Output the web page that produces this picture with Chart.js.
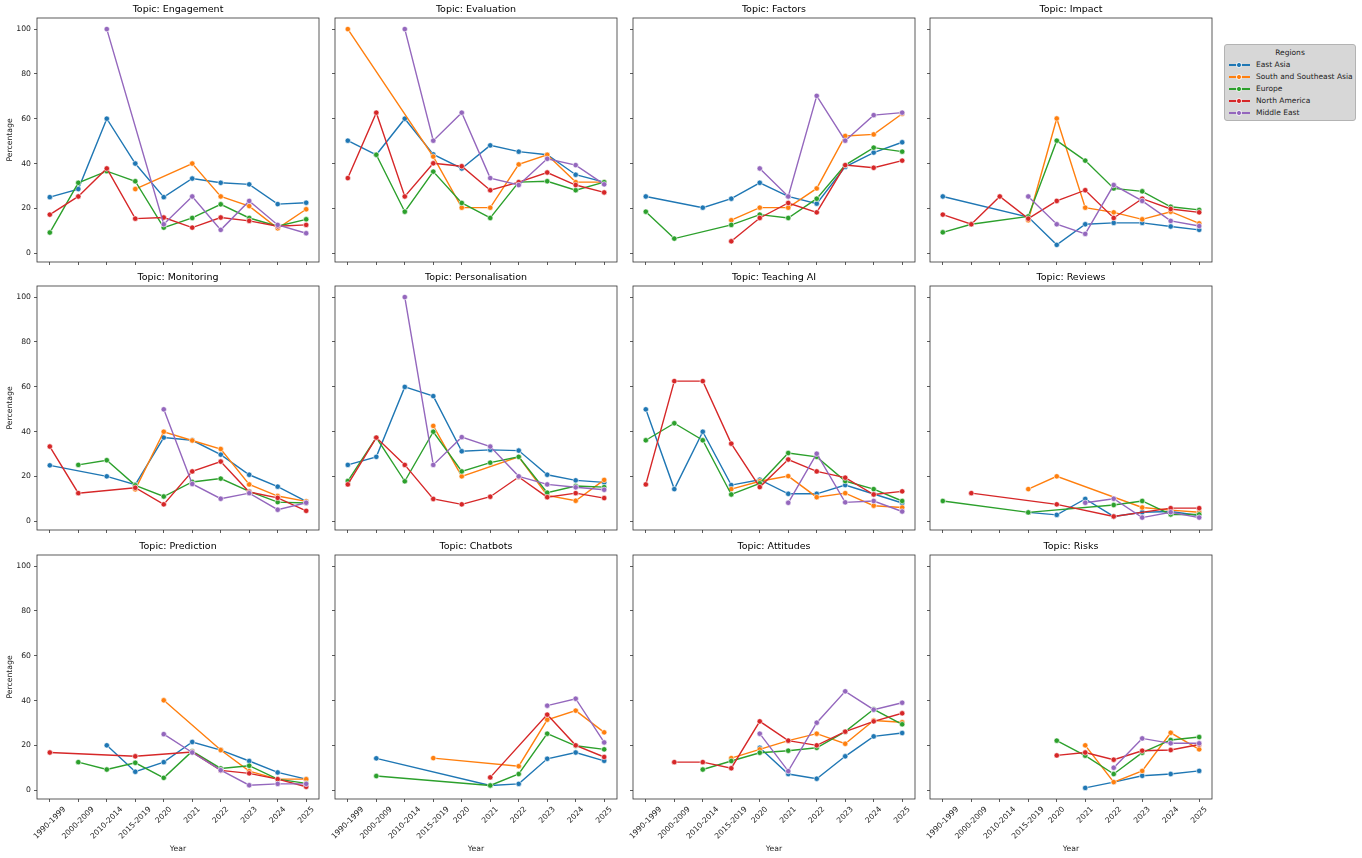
<!DOCTYPE html>
<html>
<head>
<meta charset="utf-8">
<script src="https://cdn.jsdelivr.net/npm/chart.js@4.4.1/dist/chart.umd.min.js"></script>
<style>
html,body{margin:0;padding:0;background:#fff;}
body{width:1362px;height:858px;overflow:hidden;position:relative;font-family:'DejaVu Sans',sans-serif;}
.cell{position:absolute;}
.cell canvas{display:block;}
#legend{position:absolute;left:1224px;top:44px;width:132px;height:77px;background:#d7d7d7;border:1px solid #b3b3b3;border-radius:3px;box-sizing:border-box;font-size:7.5px;color:#222;}
#legend .lt{position:absolute;left:0;width:100%;text-align:center;top:3px;height:10px;line-height:10px;}
#legend .le{position:absolute;left:0;width:100%;height:10px;}
#legend .ln{position:absolute;left:4px;top:4.3px;width:21px;height:1.4px;}
#legend .mk{position:absolute;left:11.2px;top:2.2px;width:5.6px;height:5.6px;border-radius:50%;box-sizing:border-box;border:0.6px solid #fff;}
#legend .tx{position:absolute;left:31px;top:0;height:10px;line-height:10px;white-space:nowrap;}
</style>
</head>
<body>
<div id="legend"></div>
<script>
// ---- categories / labels ----
const years = ['1990-1999','2000-2009','2010-2014','2015-2019','2020','2021','2022','2023','2024','2025'];
const regions = ['East Asia','South and Southeast Asia','Europe','North America','Middle East'];
const regionColors = ['#1f77b4','#ff7f0e','#2ca02c','#d62728','#9467bd'];
const yTickValues = [0, 20, 40, 60, 80, 100];
const topicNames = ['Engagement','Evaluation','Factors','Impact','Monitoring','Personalisation','Teaching AI','Reviews','Prediction','Chatbots','Attitudes','Risks'];

// ---- series values (order of rows = regions) ----
const engagement = [
  [25, 28.6, 60, 40, 25, 33.3, 31.4, 30.7, 21.9, 22.5],
  [null, null, null, 28.6, null, 40, 25.3, 21, 11.1, 19.6],
  [9.2, 31.4, 36.6, 32.1, 11.4, 15.7, 21.8, 15.7, 12, 15.1],
  [17.2, 25.3, 37.8, 15.4, 15.9, 11.4, 15.9, 14.4, 12, 12.6],
  [null, null, 100, null, 12.9, 25.3, 10.4, 23.3, 12.6, 8.9]
];
const evaluation = [
  [50.2, 43.9, 60, 44.1, 37.8, 48.1, 45.3, 43.9, 35, 31.7],
  [100, null, null, 43.1, 20.3, 20.3, 39.6, 43.9, 31.7, 31.7],
  [null, 43.9, 18.5, 36.4, 22.4, 15.7, 31.7, 32.1, 28.1, 31.7],
  [33.5, 62.7, 25.3, 40.1, 38.8, 28.1, 31.7, 36, 30.4, 27.1],
  [null, null, 100, 50.2, 62.7, 33.5, 30.4, 42.1, 39.3, 30.7]
];
const factors = [
  [25.3, null, 20.3, 24.3, 31.4, 25.3, 22.1, 38.5, 44.9, 49.5],
  [null, null, null, 14.7, 20.3, 20.3, 28.9, 52.3, 53, 62.2],
  [18.5, 6.5, null, 12.6, 17.2, 15.7, 24.3, 39.3, 47.1, 45.3],
  [null, null, null, 5.3, 15.7, 22.4, 18.2, 39.3, 38.1, 41.3],
  [null, null, null, null, 37.8, 25.3, 70.2, 50.2, 61.6, 62.7]
];
const impact = [
  [25.3, null, null, 16.1, 3.7, 12.9, 13.5, 13.5, 11.9, 10.4],
  [null, null, null, 14.7, 60.1, 20.3, 18.2, 15.1, 18.5, 13.3],
  [9.3, 12.9, null, 16.4, 50.2, 41.3, 28.9, 27.6, 20.7, 19.3],
  [17.2, 12.9, 25.3, 15.4, 23.3, 28.1, 15.7, 24.3, 19.7, 18.2],
  [null, null, null, 25.3, 12.9, 8.6, 30.4, 23.3, 14.4, 12.1]
];
const monitoring = [
  [24.9, null, 20, 16.3, 37.3, 36.1, 29.7, 20.7, 15.4, 8.8],
  [null, null, null, 14.2, 39.9, 36, 32.2, 16.4, 11.2, 8.8],
  [null, 25.1, 27.2, 16, 11, 17.5, 19, 13.3, 8.5, 8.1],
  [33.3, 12.5, null, 14.9, 7.5, 22.2, 26.6, 13, 10.4, 4.6],
  [null, null, null, null, 49.9, 16.6, 10, 12.5, 5.1, 8.2]
];
const personalisation = [
  [25.1, 28.7, 59.9, 55.8, 31.2, 31.8, 31.5, 20.7, 18.2, 17.3],
  [null, null, null, 42.5, 20, null, 28.7, 11.5, 9.1, 18.4],
  [17.9, 37.3, 17.8, 39.9, 22.2, 26.1, 28.7, 12.7, 15.7, 15.2],
  [16.4, 37.3, 25.1, 9.9, 7.5, 10.9, 19.7, 10.7, 12.5, 10.3],
  [null, null, 100, 25.1, 37.5, 33.3, 20, 16.4, 15.1, 14]
];
const teachingAI = [
  [49.9, 14.3, 39.9, 16.1, 18.5, 12.2, 12.2, 16.1, 12.1, 8.1],
  [null, null, null, 14.3, 17.8, 20.1, 10.7, 12.5, 6.9, 6.1],
  [36.1, 43.7, 36.1, 11.9, 16.9, 30.4, 28.7, 17.9, 14.3, 9],
  [16.4, 62.5, 62.5, 34.6, 15.2, 27.5, 22.2, 19.4, 11.9, 13.3],
  [null, null, null, null, null, 8.2, 30.1, 8.4, 9, 4.3]
];
const reviews = [
  [null, null, null, 3.9, 2.8, 9.9, 2.1, 4, 4.3, 2.5],
  [null, null, null, 14.3, 20, null, null, 6.1, 4.9, 4],
  [9, null, null, 3.9, null, null, 7.2, 9, 3, 3],
  [null, 12.5, null, null, 7.5, null, 2.1, null, 5.8, 5.8],
  [null, null, null, null, null, 8.2, 10, 1.6, 4, 1.6]
];
const prediction = [
  [null, null, 20, 8.2, 12.5, 21.5, 17.9, 13, 7.9, 4.9],
  [null, null, null, null, 40.1, null, 17.9, 8.5, 4.9, 4.9],
  [null, 12.5, 9.2, 12.2, 5.5, 17.4, 9.7, 10.9, 4.9, 3],
  [16.8, null, null, 15.1, null, 17, 8.8, 7.5, 4.9, 1.5],
  [null, null, null, null, 25, 16.8, 8.9, 2.2, 2.8, 2.8]
];
const chatbots = [
  [null, 14.2, null, null, null, 2.1, 2.8, 14, 16.8, 13.1],
  [null, null, null, 14.3, null, null, 10.7, 31.4, 35.5, 25.8],
  [null, 6.3, null, null, null, 2.1, 7.2, 25.2, 19.8, 18.2],
  [null, null, null, null, null, 5.7, null, 33.7, 20, 14.8],
  [null, null, null, null, null, null, null, 37.7, 40.8, 21.3]
];
const attitudes = [
  [null, null, null, null, 18.9, 7.2, 5.1, 15.1, 24, 25.5],
  [null, null, null, 14.3, 18.2, 22.1, 25.2, 20.7, 31.1, 30.3],
  [null, null, 9.2, 13, 16.7, 17.6, 18.9, 26.1, 36.1, 29.4],
  [null, 12.5, 12.5, 9.8, 30.7, 22.1, 20, 26.1, 30.7, 34.3],
  [null, null, null, null, 25.2, 8.5, 30.1, 44.1, 35.9, 39]
];
const risks = [
  [null, null, null, null, null, 1, 3.6, 6.4, 7.2, 8.6],
  [null, null, null, null, null, 20, 3.6, 8.6, 25.6, 18.2],
  [null, null, null, null, 22.1, 15.4, 7.2, 16.7, 22.4, 23.7],
  [null, null, null, null, 15.5, 16.8, 13.6, 17.6, 17.9, 20.4],
  [null, null, null, null, null, null, 10, 23.1, 20.9, 20.9]
];
const topicSeries = [engagement, evaluation, factors, impact, monitoring, personalisation, teachingAI, reviews, prediction, chatbots, attitudes, risks];

// ---- layout ----
const FONT = "'DejaVu Sans', sans-serif";
const SMALL = 7.7, TITLE_SIZE = 9.5;
const axLefts = [37, 335, 633, 930];
const axTops = [18, 286, 555];
const AXW = 282, AXH = 244, TITLE_H = 16;

const framePlugin = {
  id: 'frame',
  afterDatasetsDraw(chart) {
    const {ctx, chartArea: a} = chart;
    ctx.save();
    ctx.strokeStyle = '#333';
    ctx.lineWidth = 0.8;
    ctx.strokeRect(a.left, a.top, a.right - a.left, a.bottom - a.top);
    ctx.restore();
  }
};
const xLabelPlugin = {
  id: 'xlabels',
  afterDraw(chart) {
    const sc = chart.scales.x, ctx = chart.ctx, a = chart.chartArea;
    ctx.save();
    ctx.font = SMALL + "px 'DejaVu Sans'";
    ctx.fillStyle = '#222';
    ctx.textAlign = 'center';
    ctx.textBaseline = 'middle';
    years.forEach((lab, i) => {
      const px = sc.getPixelForValue(i);
      const w = ctx.measureText(lab).width;
      const d = (w + SMALL * 1.16) * Math.SQRT1_2 / 2;
      ctx.save();
      ctx.translate(px, a.bottom + 6 + d);
      ctx.rotate(-Math.PI / 4);
      ctx.fillText(lab, 0, 0);
      ctx.restore();
    });
    ctx.restore();
  }
};

topicNames.forEach((name, k) => {
  const row = Math.floor(k / 4), col = k % 4;
  const isLeft = col === 0, isBottom = row === 2;
  const LPAD = isLeft ? 37 : 12, RPAD = 4, BPAD = isBottom ? 57 : 10;
  const W = LPAD + AXW + RPAD, H = TITLE_H + AXH + BPAD;
  const div = document.createElement('div');
  div.className = 'cell';
  div.style.left = (axLefts[col] - LPAD) + 'px';
  div.style.top = (axTops[row] - TITLE_H) + 'px';
  div.style.width = W + 'px';
  div.style.height = H + 'px';
  const cv = document.createElement('canvas');
  cv.width = W; cv.height = H;
  cv.style.width = W + 'px'; cv.style.height = H + 'px';
  div.appendChild(cv);
  document.body.appendChild(div);

  const series = topicSeries[k];
  const gridOpts = {drawOnChartArea: false, drawTicks: true, tickLength: 3, tickWidth: 0.8, color: '#333', tickColor: '#333'};
  new Chart(cv, {
    type: 'line',
    data: {
      datasets: regions.map((r, i) => ({
        label: r,
        data: series[i].map((v, j) => ({x: j, y: v})).filter(p => p.y !== null),
        borderColor: regionColors[i],
        backgroundColor: regionColors[i],
        pointBackgroundColor: regionColors[i],
        pointBorderColor: '#ffffff',
        pointBorderWidth: 0.6,
        pointRadius: 2.7,
        pointHoverRadius: 2.7,
        borderWidth: 1.4,
        tension: 0,
        spanGaps: true,
        order: 4 - i
      }))
    },
    options: {
      responsive: false,
      animation: false,
      events: [],
      layout: {padding: {left: 0, right: RPAD, top: 0, bottom: 0}},
      plugins: {
        legend: {display: false},
        tooltip: {enabled: false},
        title: {
          display: true, text: 'Topic: ' + name, fullSize: false,
          color: '#000', font: {family: FONT, size: TITLE_SIZE, weight: 'normal', lineHeight: 12 / TITLE_SIZE},
          padding: {top: 2, bottom: 2}
        }
      },
      scales: {
        x: {
          type: 'linear', min: -0.45, max: 9.45,
          afterBuildTicks: ax => { ax.ticks = years.map((_, i) => ({value: i})); },
          afterFit: sc => { sc.height = BPAD; },
          grid: gridOpts, border: {display: false},
          ticks: {display: false},
          title: {display: isBottom, text: 'Year', color: '#222', font: {family: FONT, size: SMALL, lineHeight: 1.2}, padding: {top: 0, bottom: 2}}
        },
        y: {
          type: 'linear', min: -3.95, max: 104.95,
          afterBuildTicks: ax => { ax.ticks = yTickValues.map(v => ({value: v})); },
          afterFit: sc => { sc.width = LPAD; },
          grid: gridOpts, border: {display: false},
          ticks: {display: isLeft, color: '#222', font: {family: FONT, size: SMALL}, padding: 3},
          title: {display: isLeft, text: 'Percentage', color: '#222', font: {family: FONT, size: SMALL, lineHeight: 1.2}, padding: {top: 5, bottom: 0}}
        }
      }
    },
    plugins: isBottom ? [framePlugin, xLabelPlugin] : [framePlugin]
  });
});

// ---- legend ----
const lg = document.getElementById('legend');
const lt = document.createElement('div');
lt.className = 'lt'; lt.textContent = 'Regions';
lg.appendChild(lt);
regions.forEach((r, i) => {
  const e = document.createElement('div');
  e.className = 'le';
  e.style.top = (15 + i * 12) + 'px';
  e.innerHTML = '<div class="ln" style="background:' + regionColors[i] + '"></div>' +
    '<div class="mk" style="background:' + regionColors[i] + '"></div>' +
    '<div class="tx"></div>';
  e.querySelector('.tx').textContent = r;
  lg.appendChild(e);
});
</script>
</body>
</html>
